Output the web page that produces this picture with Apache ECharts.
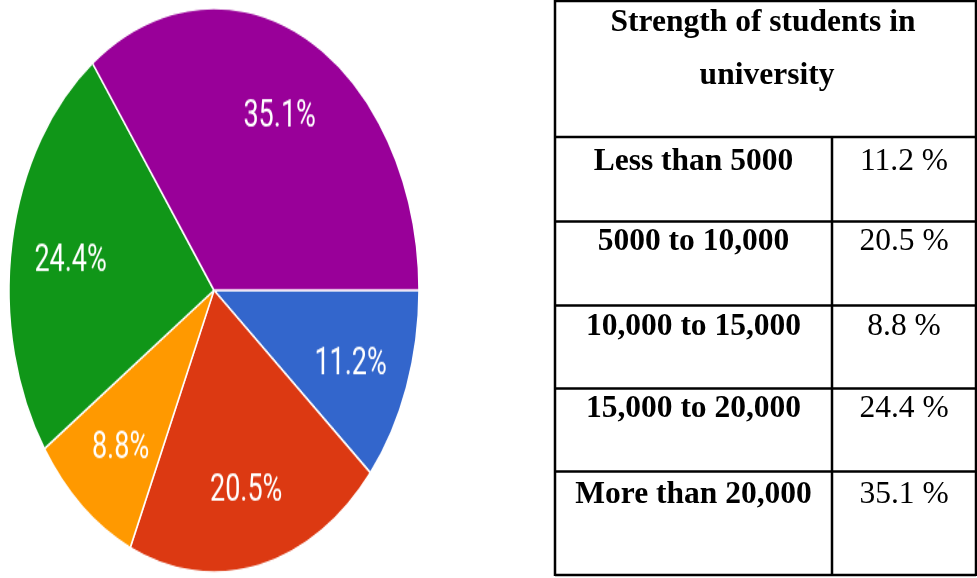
<!DOCTYPE html>
<html>
<head>
<meta charset="utf-8">
<script src="https://cdn.jsdelivr.net/npm/echarts@6/dist/echarts.min.js"></script>
<style>
  html, body { margin: 0; padding: 0; background: #fff; width: 977px; height: 578px; overflow: hidden; }
  #table { position: absolute; left: 0; top: 0; width: 977px; height: 578px; }
  /* the pie is drawn round and stretched vertically into an ellipse */
  #pie { position: absolute; left: 0; top: 0; width: 428px; height: 422px;
         transform: scaleY(1.3756); transform-origin: 0 0; }
</style>
</head>
<body>
<div id="table"></div>
<div id="pie"></div>
<script>
// Strength of students in university: share of respondents per band
const categories = ['Less than 5000', '5000 to 10,000', '10,000 to 15,000', '15,000 to 20,000', 'More than 20,000'];
const shares = [11.2, 20.5, 8.8, 24.4, 35.1];
const sliceColors = ['#3366cc', '#dc3912', '#ff9900', '#109618', '#990099'];
const tableTitle = ['Strength of students in', 'university'];

const pieData = categories.map((name, i) => ({
  name: name,
  value: shares[i],
  itemStyle: { color: sliceColors[i] }
}));

const pieChart = echarts.init(document.getElementById('pie'));
pieChart.setOption({
  animation: false,
  series: [
    {
      type: 'pie',
      center: [214, 211],
      radius: 205,
      startAngle: 0,
      clockwise: true,
      silent: true,
      label: { show: false },
      labelLine: { show: false },
      itemStyle: { borderColor: '#ffffff', borderWidth: 1.5 },
      data: pieData
    },
    {
      // transparent ring that only places the percentage labels
      type: 'pie',
      center: [214, 211],
      radius: [80, 205],
      startAngle: 0,
      clockwise: true,
      silent: true,
      avoidLabelOverlap: false,
      itemStyle: { color: 'rgba(0,0,0,0)', borderWidth: 0 },
      label: {
        show: true,
        position: 'inside',
        offset: [0, 4],
        color: '#ffffff',
        fontFamily: 'Roboto',
        fontSize: 27,
        formatter: p => p.value.toFixed(1) + '%'
      },
      labelLine: { show: false },
      data: categories.map((name, i) => ({ name: name, value: shares[i] }))
    }
  ]
});

// table beside the pie
const tableLeft = 555, tableRight = 976, colDivider = 832;
const tableTop = 1, tableBottom = 575;
const rowLines = [137, 221.5, 305.5, 388.5, 471.5];
const rowBaselines = [172, 252, 337, 419, 505];
const titleBaselines = [33, 86];
const lineW = 2.5;
const serif = '"Liberation Serif", "Times New Roman", serif';
const fontSize = 31.5;
const mid = 10.5; // baseline to middle of the text line

const elements = [];
function line(x1, y1, x2, y2) {
  elements.push({ type: 'line', shape: { x1, y1, x2, y2 },
    style: { stroke: '#000', lineWidth: lineW }, silent: true });
}
line(tableLeft, tableTop, tableRight, tableTop);
line(tableLeft, tableBottom, tableRight, tableBottom);
line(tableLeft, tableTop - 1, tableLeft, tableBottom + 1);
line(tableRight, tableTop - 1, tableRight, tableBottom + 1);
line(colDivider, rowLines[0], colDivider, tableBottom);
rowLines.forEach(y => line(tableLeft, y, tableRight, y));

function text(str, x, baseline, bold) {
  elements.push({ type: 'text', x: x, y: baseline - mid, silent: true,
    style: { text: str, fill: '#000', align: 'center', verticalAlign: 'middle',
      font: (bold ? 'bold ' : '') + fontSize + 'px ' + serif } });
}
text(tableTitle[0], 763, titleBaselines[0], true);
text(tableTitle[1], 767, titleBaselines[1], true);
categories.forEach((c, i) => {
  text(c, (tableLeft + colDivider) / 2, rowBaselines[i], true);
  text(shares[i].toFixed(1) + ' %', (colDivider + tableRight) / 2, rowBaselines[i], false);
});

const tableChart = echarts.init(document.getElementById('table'));
tableChart.setOption({ animation: false, graphic: { elements: elements } });
</script>
</body>
</html>
